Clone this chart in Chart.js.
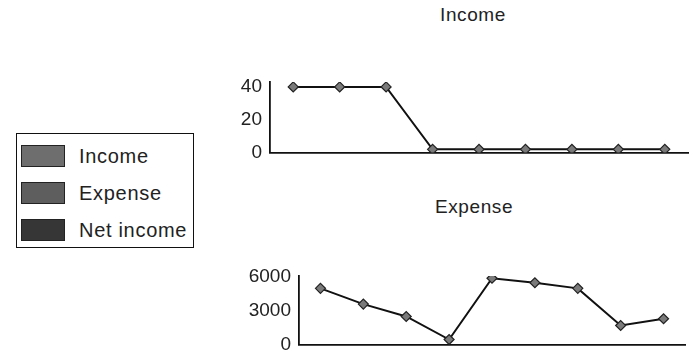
<!DOCTYPE html>
<html>
<head>
<meta charset="utf-8">
<script src="https://cdn.jsdelivr.net/npm/chart.js@4"></script>
<style>
  body { margin: 0; width: 698px; height: 353px; background: #fff; overflow: hidden; position: relative; font-family: "Liberation Sans", Arial, sans-serif; }
  .box { position: absolute; }
  .title { position: absolute; width: 200px; margin-left: -100px; text-align: center; font-size: 19px; letter-spacing: 0.6px; line-height: 22px; color: #222; }
  #legend { position: absolute; left: 16px; top: 133px; width: 176px; height: 113px; border: 1.5px solid #111; }
  #legend .item { position: absolute; left: 4px; height: 24px; }
  #legend .sw { position: absolute; left: 0; top: 0; width: 44px; height: 22px; border: 1px solid #222; box-sizing: border-box; }
  #legend .tx { position: absolute; left: 58px; top: 0; font-size: 20px; letter-spacing: 0.7px; line-height: 22px; color: #222; white-space: nowrap; }
</style>
</head>
<body>
<div class="title" style="left:473px;top:4px;">Income</div>
<div class="title" style="left:474px;top:196px;">Expense</div>
<div class="box" style="left:236px;top:0;width:474px;height:172px;"><canvas id="incomeChart"></canvas></div>
<div class="box" style="left:244px;top:190px;width:460px;height:174px;"><canvas id="expenseChart"></canvas></div>
<div id="legend"></div>
<script>
var months = ["1", "2", "3", "4", "5", "6", "7", "8", "9"];
var incomeValues = [40, 40, 40, 2, 2, 2, 2, 2, 2];
var expenseValues = [5000, 3600, 2500, 450, 5900, 5500, 5000, 1700, 2300];
var incomeTicks = [0, 20, 40];
var expenseTicks = [0, 3000, 6000];
var legendLabels = ["Income", "Expense", "Net income"];
var legendColors = ["#6e6e6e", "#5e5e5e", "#363636"];

Chart.defaults.font.family = '"Liberation Sans", Arial, sans-serif';
Chart.defaults.color = "#222";

function makeChart(id, title, values, tickList, yMax, axisWidth, pad) {
    return new Chart(document.getElementById(id), {
        type: 'line',
        data: {
            labels: months,
            datasets: [{
                label: title,
                data: values,
                borderColor: "#111",
                borderWidth: 2,
                pointStyle: 'rectRot',
                pointRadius: 5,
                pointBackgroundColor: "#7a7a7a",
                pointBorderColor: "#222",
                pointBorderWidth: 1.2,
                tension: 0
            }]
        },
        options: {
            responsive: true,
            maintainAspectRatio: false,
            animation: false,
            layout: { padding: pad },
            plugins: {
                legend: { display: false },
                tooltip: { enabled: false },
                title: { display: false }
            },
            scales: {
                x: {
                    offset: true,
                    grid: { display: false, drawTicks: false },
                    border: { display: true, color: "#111", width: 1.8 },
                    ticks: { display: false }
                },
                y: {
                    min: 0,
                    max: yMax,
                    grid: { display: false, drawTicks: false },
                    border: { display: true, color: "#111", width: 1.8 },
                    ticks: {
                        font: { size: 19 },
                        color: "#222",
                        padding: 8,
                        callback: function (v) { return String(v); }
                    },
                    afterBuildTicks: function (scale) {
                        scale.ticks = tickList.map(function (v) { return { value: v }; });
                    },
                    afterFit: function (scale) { scale.width = axisWidth; }
                }
            }
        }
    });
}

makeChart("incomeChart", "Income", incomeValues, incomeTicks, 43, 34, { top: 82, right: 22, bottom: 10, left: 0 });
makeChart("expenseChart", "Expense", expenseValues, expenseTicks, 6100, 55, { top: 86, right: 19, bottom: 0, left: 0 });

var legend = document.getElementById("legend");
var tops = [11, 48, 85];
legendLabels.forEach(function (name, i) {
    var item = document.createElement("div");
    item.className = "item";
    item.style.top = tops[i] + "px";
    item.innerHTML = '<div class="sw" style="background:' + legendColors[i] + '"></div><div class="tx">' + name + '</div>';
    legend.appendChild(item);
});
</script>
</body>
</html>
